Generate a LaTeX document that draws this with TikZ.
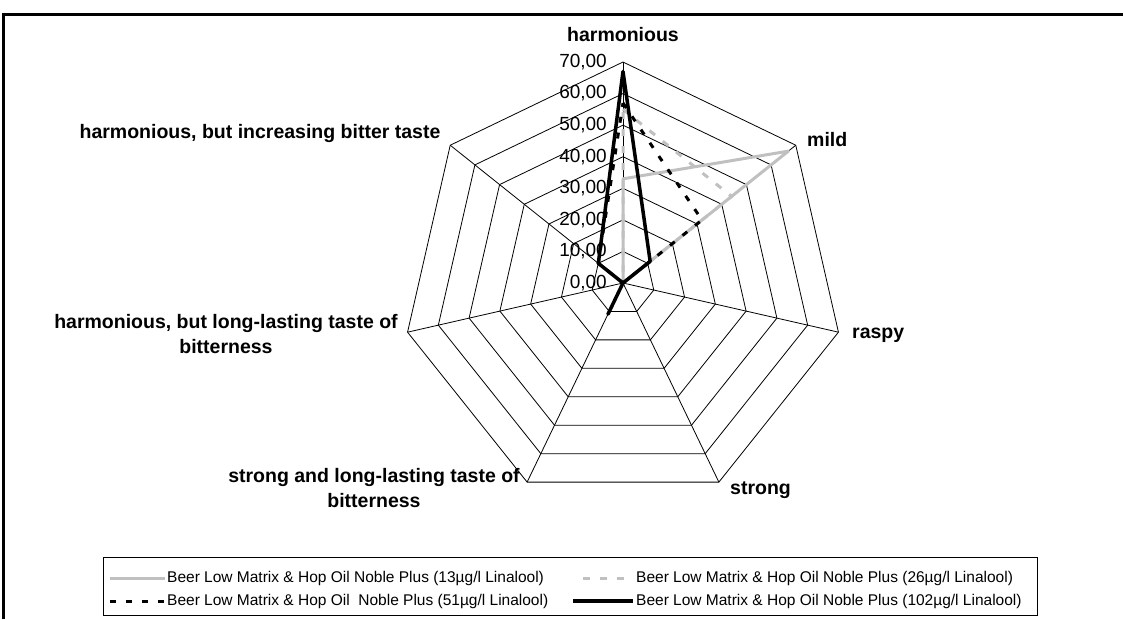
\documentclass[tikz,border=0pt]{standalone}
\usepackage{fontspec}
\setmainfont{Liberation Sans}
\definecolor{lightseries}{RGB}{192,192,192}

\begin{document}
\begin{tikzpicture}[x=1pt, y=1pt,
    gridline/.style={draw=black, line width=0.8pt},
    axislabel/.style={font=\fontsize{19.5}{25}\selectfont\bfseries, align=center, inner sep=0pt},
    ticklabel/.style={font=\fontsize{19}{22}\selectfont, anchor=east, inner sep=0pt},
    legtext/.style={font=\fontsize{15.5}{18}\selectfont, anchor=west, inner sep=0pt},
    lowsolid/.style={draw=lightseries, line width=3pt, line join=round},
    lowdashed/.style={draw=lightseries, line width=3pt, dash pattern=on 7pt off 10pt},
    middashed/.style={draw=black, line width=3pt, dash pattern=on 6pt off 10pt},
    highsolid/.style={draw=black, line width=3.5pt, line join=round},
]
    \useasboundingbox (-623,-336) rectangle (500,283);
    \def\u{3.157}

    % chart frame
    \draw[line width=3pt] (-619,-336) -- (-619,268) -- (500,268);

    % rings and spokes
    \foreach \r in {1,...,7}
        \draw[gridline] (90:{\r*10*\u}) \foreach \k in {1,...,6} { -- ({90-\k*360/7}:{\r*10*\u}) } -- cycle;
    \foreach \k in {0,...,6}
        \draw[gridline] (0,0) -- ({90-\k*360/7}:{70*\u});

    % scale
    \node[ticklabel] (tick0) at (-16,0) {0,00};
    \foreach \r in {1,...,7}
        \node[ticklabel] (tick\r) at (-16,{\r*10*\u}) {\r0,00};

    % axis labels
    \node[axislabel] (harm) at (0,248) {harmonious};
    \node[axislabel, anchor=west] (mild) at (184,143) {mild};
    \node[axislabel, anchor=west] (raspy) at (229,-52) {raspy};
    \node[axislabel, anchor=west] (strong) at (107,-207) {strong};
    \node[axislabel] (stronglong) at (-249,-205) {strong and long-lasting taste of\\bitterness};
    \node[axislabel] (harmlong) at (-397,-51) {harmonious, but long-lasting taste of\\bitterness};
    \node[axislabel] (harmbitter) at (-363,150) {harmonious, but increasing bitter taste};

    % series
    \draw[lowsolid] (90:{33*\u}) -- (38.57:{67*\u}) -- (-12.86:0) -- (-64.29:0) -- (-115.71:0) -- (-167.14:0) -- (141.43:0) -- cycle;
    \draw[lowdashed] (90:{55*\u}) -- (38.57:{44*\u}) -- (-12.86:0) -- (-64.29:0) -- (-115.71:0) -- (-167.14:0) -- (141.43:0) -- cycle;
    \draw[middashed] (90:{57*\u}) -- (38.57:{32*\u}) -- (-12.86:0) -- (-64.29:0) -- (-115.71:0) -- (-167.14:0) -- (141.43:{10*\u}) -- cycle;
    \draw[highsolid] (90:{67*\u}) -- (38.57:{11*\u}) -- (-12.86:0) -- (-64.29:0) -- (-115.71:{11*\u}) -- (-167.14:0) -- (141.43:{10*\u}) -- cycle;

    % legend
    \draw[line width=0.8pt] (-520,-274) rectangle (414,-332);
    \draw[lowsolid] (-513,-295) -- (-458,-295);
    \node[legtext] (leg1) at (-456,-295) {Beer Low Matrix \& Hop Oil Noble Plus (13µg/l Linalool)};
    \draw[lowdashed] (-40,-295) -- (10,-295);
    \node[legtext] (leg2) at (13,-295) {Beer Low Matrix \& Hop Oil Noble Plus (26µg/l Linalool)};
    \draw[middashed] (-513,-318) -- (-458,-318);
    \node[legtext] (leg3) at (-456,-318) {Beer Low Matrix \& Hop Oil~ Noble Plus (51µg/l Linalool)};
    \draw[highsolid] (-50,-318) -- (10,-318);
    \node[legtext] (leg4) at (13,-318) {Beer Low Matrix \& Hop Oil Noble Plus (102µg/l Linalool)};
\end{tikzpicture}
\end{document}
